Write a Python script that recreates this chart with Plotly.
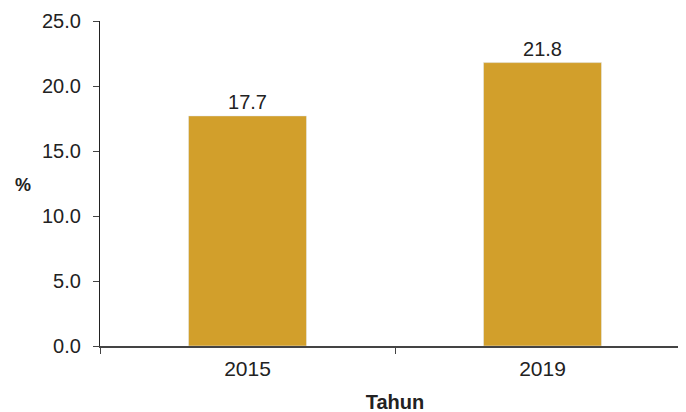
import plotly.graph_objects as go

years = ["2015", "2019"]
values = [17.7, 21.8]
y_ticks = [0, 5, 10, 15, 20, 25]

fig = go.Figure(go.Bar(
    x=years, y=values,
    marker_color="#D29F2B", width=0.4,
    text=[f"{v:.1f}" for v in values], textposition="outside",
    textfont=dict(size=20, color="#222222"),
    cliponaxis=False,
))

# page body has an 8px margin, so the figure is shifted by that much
fig.update_layout(
    width=686, height=412,
    margin=dict(l=92, r=4, t=13, b=74),
    plot_bgcolor="white", paper_bgcolor="white",
    font=dict(family="Liberation Sans, Arial, sans-serif", size=21, color="#222222"),
    showlegend=False,
)
fig.update_xaxes(
    type="category", automargin=False,
    showline=True, linecolor="#444444", linewidth=1.5,
    ticks="outside", tickson="boundaries", ticklen=6, tickcolor="#444444",
    ticklabelstandoff=3,
    title=dict(text="<b>Tahun</b>", font=dict(size=20), standoff=16),
)
fig.update_yaxes(
    automargin=False,
    range=[0, 25], tickvals=y_ticks, tickformat=".1f",
    tickfont=dict(size=20), ticklabelstandoff=8,
    showline=True, linecolor="#222222", linewidth=1.2,
    ticks="outside", ticklen=6, tickcolor="#444444",
    showgrid=False, zeroline=False,
)
# "%" label sits left of the tick labels, roughly mid-height
fig.add_annotation(text="<b>%</b>", xref="paper", yref="paper",
                   x=-0.131, y=0.495, xanchor="center", yanchor="middle",
                   showarrow=False, font=dict(size=18))

fig.write_html("out.html")
